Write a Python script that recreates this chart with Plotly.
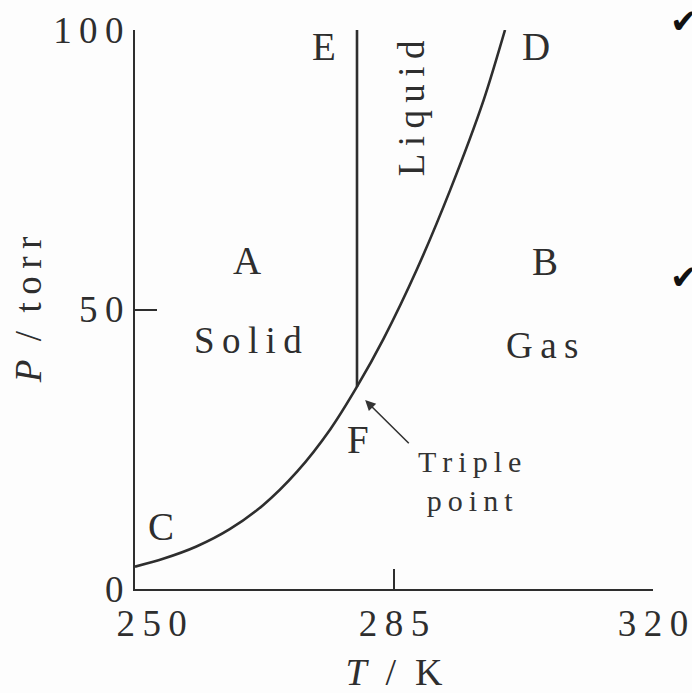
import plotly.graph_objects as go

# ---- data ----
sub_T = [250.0, 253.8, 258.3, 262.8, 267.3, 271.9, 276.4, 280.0]
sub_P = [4.0, 5.4, 7.6, 10.7, 15.0, 21.0, 28.6, 36.2]
vap_T = [280.0, 283.6, 288.1, 292.6, 297.1, 300.0]
vap_P = [36.2, 44.8, 57.2, 71.4, 87.4, 100.0]
fus_T = [280.0, 280.0]
fus_P = [36.2, 100.0]

x_tickvals = [250, 285, 320]
x_ticktext = ["\u2002\u2009\u20092\u20095\u20090", "2\u20098\u20095", "3\u20092\u20090"]
y_tickvals = [0, 50, 100]
y_ticktext = ["0", "5\u20090", "1\u20090\u20090"]

point_labels = ["E", "D", "A", "B", "C", "F"]
point_T = [275.5, 304.2, 265.1, 305.4, 253.5, 280.1]
point_P = [97.0, 97.0, 58.7, 58.5, 11.1, 26.8]

phase_labels = ["Solid", "Gas"]
phase_T = [265.3, 305.0]
phase_P = [44.4, 43.6]

liquid_label = "Liquid"
liquid_T, liquid_P = 287.3, 86.0

triple_label = "Triple<br>point"
triple_T, triple_P = 295.2, 19.4
arrow_tip = (281.1, 33.8)
arrow_tail = (287.2, 25.8)

SERIF = "Liberation Serif, Times New Roman, serif"
INK = "#2e2e2e"


def spaced(s):
    return "\u2009".join(list(s))


fig = go.Figure()
line_style = dict(color=INK, width=2.6)
fig.add_trace(go.Scatter(x=sub_T + vap_T[1:], y=sub_P + vap_P[1:], mode="lines",
                         line=dict(shape="spline", smoothing=0.8, **line_style),
                         hoverinfo="skip", showlegend=False))
fig.add_trace(go.Scatter(x=fus_T, y=fus_P, mode="lines", line=line_style,
                         hoverinfo="skip", showlegend=False))

ann = []
for t, x, y in zip(point_labels, point_T, point_P):
    ann.append(dict(x=x, y=y, xref="x", yref="y", text=t, showarrow=False,
                    font=dict(family=SERIF, size=39, color=INK)))
for t, x, y in zip(phase_labels, phase_T, phase_P):
    ann.append(dict(x=x, y=y, xref="x", yref="y", text=spaced(t), showarrow=False,
                    font=dict(family=SERIF, size=37, color=INK)))
ann.append(dict(x=liquid_T, y=liquid_P, xref="x", yref="y", text=spaced(liquid_label),
                textangle=-90, showarrow=False,
                font=dict(family=SERIF, size=37, color=INK)))
ann.append(dict(x=triple_T, y=triple_P, xref="x", yref="y",
                text="<br>".join(spaced(w) for w in triple_label.split("<br>")),
                showarrow=False, font=dict(family=SERIF, size=30, color="#333333")))
ann.append(dict(x=arrow_tip[0], y=arrow_tip[1], xref="x", yref="y",
                ax=arrow_tail[0], ay=arrow_tail[1], axref="x", ayref="y",
                text="", showarrow=True, arrowhead=2, arrowsize=1.3, arrowwidth=1.6,
                arrowcolor="#333333"))
# checkmarks at the right edge
for yy in [1.016, 0.558]:
    ann.append(dict(x=1.029, y=yy, xref="paper", yref="paper", text="\u2714",
                    xanchor="left", yanchor="middle", showarrow=False,
                    font=dict(family="DejaVu Sans", size=34, color="#111111")))

fig.update_layout(
    width=692, height=693,
    margin=dict(l=135, r=39, t=30, b=104),
    paper_bgcolor="#fdfdfd", plot_bgcolor="#fdfdfd",
    annotations=ann,
    showlegend=False,
)
fig.update_xaxes(range=[250, 320], showgrid=False, zeroline=False,
                 showline=True, linecolor=INK, linewidth=2.2,
                 ticks="inside", ticklen=20, tickwidth=1.6, tickcolor=INK,
                 tickvals=x_tickvals, ticktext=x_ticktext,
                 tickfont=dict(family=SERIF, size=37, color=INK),
                 title=dict(text="<i>T</i>\u2002/\u2002K", standoff=19,
                            font=dict(family=SERIF, size=38, color=INK)),
                 automargin=False)
fig.update_yaxes(range=[0, 100], showgrid=False, zeroline=False,
                 showline=True, linecolor=INK, linewidth=2.2,
                 ticks="inside", ticklen=22, tickwidth=1.6, tickcolor=INK,
                 tickvals=y_tickvals, ticktext=y_ticktext, ticklabelstandoff=2,
                 tickfont=dict(family=SERIF, size=37, color=INK),
                 title=dict(text="<i>P</i>\u2002/\u2002" + spaced("torr"), standoff=0,
                            font=dict(family=SERIF, size=37, color=INK)),
                 automargin=False)

fig.write_html("out.html")
